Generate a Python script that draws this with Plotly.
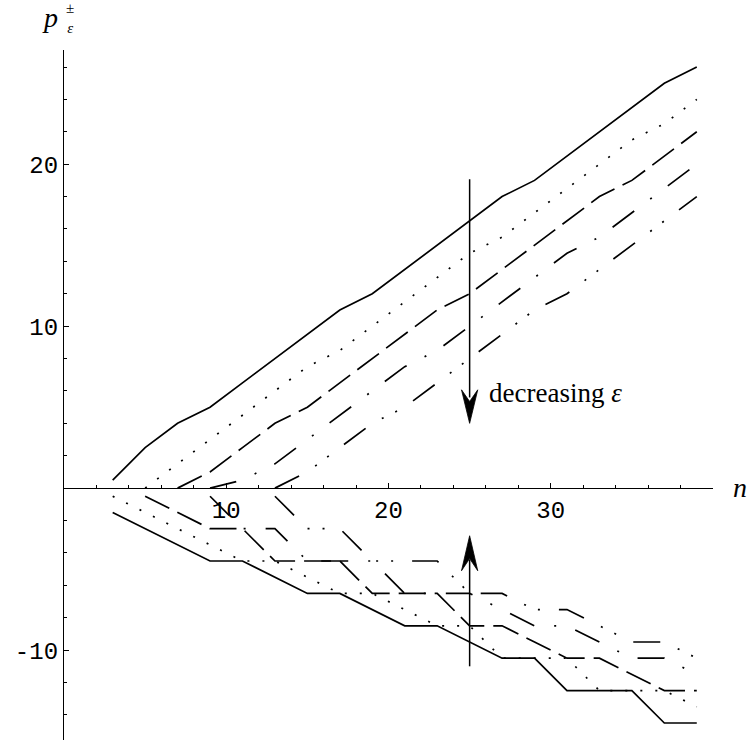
import plotly.graph_objects as go

# ---------------- data ----------------
N = list(range(3, 41, 2))  # n = 3, 5, ..., 39

upper_solid = [0.5, 2.5, 4, 5, 6.5, 8, 9.5, 11, 12, 13.5, 15, 16.5, 18, 19, 20.5, 22, 23.5, 25, 26]
upper_dotted = [None, 0, 1.5, 3, 4.5, 6, 7.5, 8.5, 10, 11.5, 13, 14.5, 15.5, 17, 18.5, 20, 21.5, 22.5, 24]
upper_dashed = [None, None, 0, 1, 2.5, 4, 5, 6.5, 8, 9.5, 11, 12, 13.5, 15, 16.5, 18, 19, 20.5, 22]
upper_dashdot = [None, None, None, 0, 0.5, 1.5, 3, 4.5, 6, 7.5, 8.5, 10, 11.5, 13, 14.5, 15.5, 17, 18.5, 20]
upper_dashdotdot = [None, None, None, None, None, 0, 1, 2.5, 4, 5, 6.5, 8, 9.5, 11, 12, 13.5, 15, 16.5, 18]

lower_solid = [-1.5, -2.5, -3.5, -4.5, -4.5, -5.5, -6.5, -6.5, -7.5, -8.5, -8.5, -9.5, -10.5, -10.5, -12.5, -12.5, -12.5, -14.5, -14.5]
lower_dotted = [-0.5, -1.5, -2.5, -3.5, -4.5, -4.5, -5.5, -6.5, -6.5, -7.5, -8.5, -8.5, -10.5, -10.5, -10.5, -12.5, -12.5, -12.5, -13.5]
lower_dashed = [None, -0.5, -1.5, -2.5, -2.5, -4.5, -4.5, -4.5, -6.5, -6.5, -6.5, -8.5, -8.5, -9.5, -10.5, -10.5, -11.5, -12.5, -12.5]
lower_dashdot = [None, None, None, -0.5, -2.5, -2.5, -4.5, -4.5, -4.5, -6.5, -6.5, -6.5, -7.5, -8.5, -8.5, -9.5, -10.5, -10.5, -11.5]
lower_dashdotdot = [None, None, None, None, None, -0.5, -2.5, -2.5, -4.5, -4.5, -4.5, -6.5, -6.5, -7.5, -7.5, -8.5, -9.5, -9.5, -10.5]

x_major = [10, 20, 30]
x_major_text = ["10", "20", "30"]
y_major = [-10, 10, 20]
y_major_text = ["-10", "10", "20"]

# ---------------- styling ----------------
X_RANGE = [0, 40]
Y_RANGE = [-15.55, 27.05]
W, H = 748, 743
ML, MR, MT, MB = 64, 35, 50, 3

DASHES = {
    "solid": "solid",
    "dotted": "2px,13px",
    "dashed": "27px,9px",
    "dashdot": "27px,20px,2px,20px",
    "dashdotdot": "27px,19px,2px,13px,2px,19px",
}

series = [
    (upper_solid, "solid"), (upper_dotted, "dotted"), (upper_dashed, "dashed"),
    (upper_dashdot, "dashdot"), (upper_dashdotdot, "dashdotdot"),
    (lower_solid, "solid"), (lower_dotted, "dotted"), (lower_dashed, "dashed"),
    (lower_dashdot, "dashdot"), (lower_dashdotdot, "dashdotdot"),
]

fig = go.Figure()
for vals, style in series:
    xs = [n for n, v in zip(N, vals) if v is not None]
    ys = [v for v in vals if v is not None]
    fig.add_trace(go.Scatter(
        x=xs, y=ys, mode="lines",
        line=dict(color="black", width=1.7, dash=DASHES[style]),
        hoverinfo="skip", showlegend=False,
    ))

# x axis crosses at y = 0
x_axis_pos = (0 - Y_RANGE[0]) / (Y_RANGE[1] - Y_RANGE[0])

tick_font = dict(family="Liberation Mono, Courier New, monospace", size=24, color="black")
serif = "Liberation Serif, Times New Roman, serif"

fig.update_layout(
    width=W, height=H,
    margin=dict(l=ML, r=MR, t=MT, b=MB, autoexpand=False),
    paper_bgcolor="white", plot_bgcolor="white",
    showlegend=False,
    xaxis=dict(
        range=X_RANGE, anchor="free", position=x_axis_pos,
        showgrid=False, zeroline=False, showline=True, linecolor="black", linewidth=1.3,
        tickmode="array", tickvals=x_major, ticktext=x_major_text,
        ticks="inside", ticklen=5, tickwidth=1, tickcolor="black",
        tickfont=tick_font, automargin=False,
        minor=dict(tickmode="array", tickvals=[v for v in range(2, 40, 2) if v % 10],
                   ticks="inside", ticklen=3, tickwidth=1, tickcolor="black"),
    ),
    yaxis=dict(
        range=Y_RANGE,
        showgrid=False, zeroline=False, showline=True, linecolor="black", linewidth=1.3,
        tickmode="array", tickvals=y_major, ticktext=y_major_text,
        ticks="inside", ticklen=5, tickwidth=1, tickcolor="black",
        tickfont=tick_font, automargin=False,
        minor=dict(tickmode="array", tickvals=[v for v in range(-14, 28, 2) if v % 10],
                   ticks="inside", ticklen=3, tickwidth=1, tickcolor="black"),
    ),
)

# ---------------- arrows (annotation graphics) ----------------
ARROW_N = 25
down_shaft = (19.07, 5.6)
down_head = dict(tip=4.0, back=6.07, notch=5.35)
up_shaft = (-11.0, -4.4)
up_head = dict(tip=-2.94, back=-5.1, notch=-4.35)
HEAD_HALF = 0.5

for y0, y1 in (down_shaft, up_shaft):
    fig.add_shape(type="line", xref="x", yref="y", x0=ARROW_N, x1=ARROW_N, y0=y0, y1=y1,
                  line=dict(color="black", width=1.5))
for hd in (down_head, up_head):
    path = (f"M {ARROW_N - HEAD_HALF},{hd['back']} L {ARROW_N},{hd['tip']} "
            f"L {ARROW_N + HEAD_HALF},{hd['back']} L {ARROW_N},{hd['notch']} Z")
    fig.add_shape(type="path", xref="x", yref="y", path=path,
                  fillcolor="black", line=dict(color="black", width=0.8))

fig.add_annotation(x=26.1, y=5.9, xref="x", yref="y", text="decreasing <i>ε</i>",
                   showarrow=False, xanchor="left", yanchor="middle",
                   font=dict(family=serif, size=27, color="black"))

# axis labels
def px_to_paper(px, py):
    return ((px - ML) / (W - ML - MR), (H - MB - py) / (H - MT - MB))

nx, ny = px_to_paper(740, 487)
fig.add_annotation(x=nx, y=ny, xref="paper", yref="paper", text="<i>n</i>", showarrow=False,
                   xanchor="center", yanchor="middle", font=dict(family=serif, size=28, color="black"))
px_, py_ = px_to_paper(50, 18)
fig.add_annotation(x=px_, y=py_, xref="paper", yref="paper", text="<i>p</i>", showarrow=False,
                   xanchor="center", yanchor="middle", borderpad=0,
                   font=dict(family=serif, size=28, color="black"))
sx, sy = px_to_paper(70, 18)
fig.add_annotation(x=sx, y=sy, xref="paper", yref="paper", text="±<br><i>ε</i>", showarrow=False,
                   xanchor="center", yanchor="middle", borderpad=0, align="center",
                   font=dict(family=serif, size=15, color="black"))

fig.write_html("out.html")
